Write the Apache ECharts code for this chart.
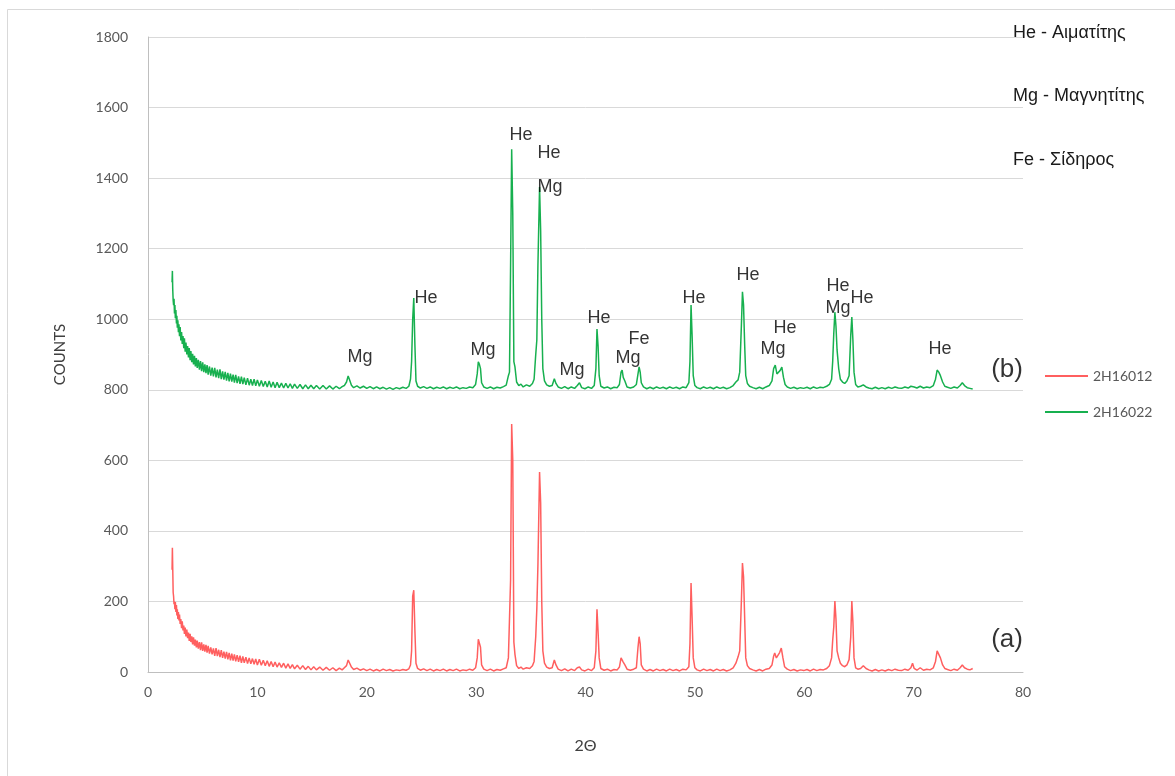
<!DOCTYPE html>
<html>
<head>
<meta charset="utf-8">
<title>XRD 2H16012 / 2H16022</title>
<script src="https://cdn.jsdelivr.net/npm/echarts@6/dist/echarts.min.js"></script>
<style>
  html, body { margin: 0; padding: 0; background: #ffffff; }
  #chart { width: 1175px; height: 776px; }
</style>
</head>
<body>
<div id="chart"></div>
<script>
// Diffraction scans: [2θ, counts]
const scanA = [ // 2H16012
  [2.20,290],[2.23,352],[2.26,296],[2.30,226],[2.34,214],[2.38,192],[2.42,200],[2.46,178],[2.50,198],[2.55,170],
  [2.60,190],[2.64,160],[2.68,178],[2.73,150],[2.78,170],[2.83,146],[2.88,163],[2.94,136],[3.00,150],[3.07,124],
  [3.13,144],[3.20,118],[3.27,132],[3.33,108],[3.40,126],[3.47,101],[3.55,120],[3.62,96],[3.70,112],[3.77,88],
  [3.85,108],[3.92,85],[4.00,101],[4.08,78],[4.16,98],[4.25,75],[4.33,92],[4.42,70],[4.50,89],[4.60,66],
  [4.70,85],[4.80,62],[4.90,84],[5.00,60],[5.10,78],[5.20,58],[5.30,77],[5.40,55],[5.50,74],[5.62,52],
  [5.74,70],[5.86,50],[5.98,67],[6.10,46],[6.22,68],[6.34,45],[6.46,63],[6.58,42],[6.70,62],[6.82,40],
  [6.94,58],[7.06,38],[7.18,57],[7.30,36],[7.42,54],[7.54,33],[7.66,52],[7.78,32],[7.90,50],[8.02,30],
  [8.15,48],[8.28,29],[8.41,46],[8.54,26],[8.67,44],[8.80,26],[8.95,42],[9.10,24],[9.25,40],[9.40,23],
  [9.55,38],[9.70,22],[9.85,37],[10.00,20],[10.18,36],[10.36,19],[10.54,33],[10.72,18],[10.90,32],[11.08,16],
  [11.26,30],[11.44,15],[11.62,28],[11.80,14],[12.00,26],[12.20,13],[12.40,25],[12.60,11],[12.80,23],[13.00,10],
  [13.20,21],[13.40,9],[13.65,19],[13.90,8],[14.15,18],[14.40,7],[14.65,16],[14.90,6],[15.15,15],[15.40,6],
  [15.70,14],[16.00,5],[16.30,13],[16.60,5],[16.90,12],[17.20,4],[17.50,11],[17.75,6],[17.95,12],[18.15,18],
  [18.30,34],[18.45,24],[18.60,14],[18.80,7],[19.10,11],[19.40,5],[19.70,9],[20.00,4],[20.30,8],[20.60,3],
  [20.90,7],[21.20,3],[21.50,8],[21.80,4],[22.10,7],[22.40,3],[22.70,6],[23.00,4],[23.30,7],[23.60,5],
  [23.85,9],[24.00,20],[24.10,60],[24.20,215],[24.30,232],[24.40,120],[24.50,25],[24.65,10],[24.90,5],[25.20,9],
  [25.50,4],[25.80,8],[26.10,3],[26.40,7],[26.70,4],[27.00,8],[27.30,3],[27.60,7],[27.90,4],[28.20,8],
  [28.50,3],[28.80,6],[29.10,4],[29.40,8],[29.70,5],[29.95,12],[30.10,40],[30.20,93],[30.30,88],[30.40,70],
  [30.50,20],[30.70,8],[31.00,4],[31.30,8],[31.60,3],[31.90,7],[32.20,5],[32.50,9],[32.75,12],[32.95,40],
  [33.05,45],[33.15,260],[33.25,703],[33.35,600],[33.45,85],[33.55,50],[33.70,18],[33.90,10],[34.10,14],[34.30,8],
  [34.60,12],[34.90,10],[35.15,18],[35.30,30],[35.45,100],[35.55,180],[35.65,303],[35.80,567],[35.90,479],[36.00,200],
  [36.10,60],[36.25,25],[36.45,14],[36.70,10],[36.95,12],[37.15,34],[37.30,20],[37.50,8],[37.80,4],[38.10,9],
  [38.40,3],[38.70,8],[39.00,4],[39.25,12],[39.45,14],[39.65,6],[39.95,3],[40.25,8],[40.55,4],[40.80,12],
  [40.95,60],[41.05,178],[41.15,113],[41.25,40],[41.40,10],[41.70,5],[42.00,8],[42.30,3],[42.60,7],[42.90,6],
  [43.10,14],[43.25,40],[43.35,45],[43.45,28],[43.60,20],[43.80,8],[44.10,5],[44.40,8],[44.65,12],[44.80,70],
  [44.90,100],[45.00,80],[45.10,20],[45.30,8],[45.60,3],[45.90,7],[46.20,3],[46.50,8],[46.80,4],[47.10,7],
  [47.40,3],[47.70,8],[48.00,4],[48.30,7],[48.60,3],[48.90,8],[49.20,6],[49.45,15],[49.55,80],[49.65,252],
  [49.75,150],[49.85,40],[50.00,12],[50.20,6],[50.50,3],[50.80,8],[51.10,4],[51.40,7],[51.70,3],[52.00,8],
  [52.30,4],[52.60,7],[52.90,3],[53.20,6],[53.50,12],[53.75,25],[53.95,43],[54.10,60],[54.25,200],[54.35,309],
  [54.45,270],[54.55,156],[54.65,40],[54.80,18],[55.00,10],[55.30,6],[55.60,3],[55.90,7],[56.20,3],[56.50,8],
  [56.80,10],[57.05,20],[57.20,45],[57.30,54],[57.45,40],[57.60,35],[57.75,55],[57.90,68],[58.05,40],[58.20,15],
  [58.45,8],[58.75,4],[59.05,7],[59.35,3],[59.65,6],[59.95,4],[60.25,7],[60.55,3],[60.85,8],[61.15,4],
  [61.45,7],[61.75,6],[62.05,10],[62.30,18],[62.50,40],[62.60,90],[62.70,128],[62.80,201],[62.90,150],[63.00,60],
  [63.15,40],[63.30,25],[63.50,18],[63.70,15],[63.90,20],[64.10,35],[64.25,99],[64.35,201],[64.45,140],[64.55,40],
  [64.70,12],[64.90,8],[65.15,10],[65.40,18],[65.65,10],[65.90,6],[66.20,3],[66.50,7],[66.80,3],[67.10,6],
  [67.40,3],[67.70,7],[68.00,4],[68.30,8],[68.60,5],[68.90,4],[69.20,8],[69.50,5],[69.75,12],[69.90,25],
  [70.05,10],[70.30,5],[70.60,12],[70.90,5],[71.20,8],[71.50,6],[71.80,12],[72.00,30],[72.15,60],[72.30,50],
  [72.45,40],[72.65,20],[72.85,10],[73.10,7],[73.40,4],[73.70,8],[74.00,5],[74.25,12],[74.45,20],[74.65,12],
  [74.90,8],[75.15,6],[75.40,10]
];

const scanB = [ // 2H16022
  [2.20,1105],[2.23,1137],[2.26,1086],[2.30,1054],[2.34,1040],[2.38,1058],[2.42,1016],[2.46,1040],[2.50,1003],[2.55,1026],
  [2.60,988],[2.64,1010],[2.68,976],[2.73,997],[2.78,963],[2.83,986],[2.88,952],[2.94,978],[3.00,940],[3.07,964],
  [3.13,930],[3.20,952],[3.27,918],[3.33,946],[3.40,908],[3.47,934],[3.55,900],[3.62,924],[3.70,892],[3.77,918],
  [3.85,884],[3.92,910],[4.00,878],[4.08,902],[4.16,872],[4.25,896],[4.33,866],[4.42,890],[4.50,862],[4.60,885],
  [4.70,857],[4.80,881],[4.90,853],[5.00,878],[5.10,850],[5.20,872],[5.30,847],[5.40,870],[5.50,843],[5.62,866],
  [5.74,840],[5.86,863],[5.98,838],[6.10,862],[6.22,835],[6.34,857],[6.46,833],[6.58,858],[6.70,830],[6.82,852],
  [6.94,829],[7.06,851],[7.18,826],[7.30,848],[7.42,824],[7.54,846],[7.66,823],[7.78,843],[7.90,820],[8.02,842],
  [8.15,819],[8.28,838],[8.41,817],[8.54,837],[8.67,816],[8.80,834],[8.95,814],[9.10,833],[9.25,813],[9.40,830],
  [9.55,812],[9.70,830],[9.85,811],[10.00,828],[10.18,810],[10.36,826],[10.54,809],[10.72,824],[10.90,808],[11.08,825],
  [11.26,807],[11.44,822],[11.62,806],[11.80,821],[12.00,806],[12.20,819],[12.40,805],[12.60,818],[12.80,805],[13.00,817],
  [13.20,804],[13.40,816],[13.65,804],[13.90,815],[14.15,803],[14.40,814],[14.65,803],[14.90,813],[15.15,803],[15.40,812],
  [15.70,802],[16.00,812],[16.30,802],[16.60,811],[16.90,802],[17.20,810],[17.50,803],[17.75,809],[17.95,812],[18.15,822],
  [18.30,839],[18.45,826],[18.60,813],[18.80,806],[19.10,811],[19.40,805],[19.70,810],[20.00,804],[20.30,809],[20.60,803],
  [20.90,808],[21.20,803],[21.50,807],[21.80,802],[22.10,806],[22.40,801],[22.70,806],[23.00,803],[23.30,807],[23.60,804],
  [23.85,810],[24.00,830],[24.10,880],[24.20,1000],[24.30,1060],[24.40,930],[24.50,825],[24.65,810],[24.90,805],[25.20,809],
  [25.50,804],[25.80,808],[26.10,803],[26.40,807],[26.70,804],[27.00,808],[27.30,803],[27.60,807],[27.90,804],[28.20,808],
  [28.50,803],[28.80,806],[29.10,804],[29.40,808],[29.70,806],[29.95,815],[30.10,845],[30.20,879],[30.30,872],[30.40,860],
  [30.50,820],[30.70,808],[31.00,804],[31.30,808],[31.60,803],[31.90,807],[32.20,805],[32.50,809],[32.75,813],[32.95,840],
  [33.05,850],[33.15,1150],[33.25,1482],[33.35,1300],[33.45,880],[33.55,865],[33.70,822],[33.90,812],[34.10,816],[34.30,808],
  [34.60,814],[34.90,810],[35.15,818],[35.30,830],[35.45,900],[35.55,941],[35.65,1154],[35.80,1375],[35.90,1250],[36.00,1000],
  [36.10,860],[36.25,825],[36.45,814],[36.70,810],[36.95,812],[37.15,831],[37.30,818],[37.50,808],[37.80,804],[38.10,809],
  [38.40,803],[38.70,808],[39.00,804],[39.25,812],[39.45,820],[39.65,806],[39.95,803],[40.25,808],[40.55,804],[40.80,812],
  [40.95,860],[41.05,972],[41.15,924],[41.25,840],[41.40,810],[41.70,805],[42.00,808],[42.30,803],[42.60,807],[42.90,806],
  [43.10,815],[43.25,850],[43.35,856],[43.45,835],[43.60,825],[43.80,808],[44.10,805],[44.40,808],[44.65,815],[44.80,845],
  [44.90,865],[45.00,850],[45.10,820],[45.30,808],[45.60,803],[45.90,807],[46.20,803],[46.50,808],[46.80,804],[47.10,807],
  [47.40,803],[47.70,808],[48.00,804],[48.30,807],[48.60,803],[48.90,808],[49.20,806],[49.45,820],[49.55,880],[49.65,1040],
  [49.75,950],[49.85,840],[50.00,812],[50.20,806],[50.50,803],[50.80,808],[51.10,804],[51.40,807],[51.70,803],[52.00,808],
  [52.30,804],[52.60,807],[52.90,803],[53.20,806],[53.50,812],[53.75,822],[53.95,828],[54.10,850],[54.25,980],[54.35,1078],
  [54.45,1040],[54.55,930],[54.65,840],[54.80,818],[55.00,810],[55.30,806],[55.60,803],[55.90,807],[56.20,803],[56.50,808],
  [56.80,812],[57.05,825],[57.20,860],[57.35,870],[57.50,845],[57.65,840],[57.80,855],[57.95,864],[58.10,835],[58.25,815],
  [58.45,808],[58.75,804],[59.05,807],[59.35,803],[59.65,806],[59.95,804],[60.25,807],[60.55,803],[60.85,808],[61.15,804],
  [61.45,807],[61.75,806],[62.05,810],[62.30,815],[62.50,830],[62.60,880],[62.70,960],[62.80,1020],[62.90,980],[63.00,913],
  [63.15,860],[63.30,830],[63.50,822],[63.70,818],[63.90,825],[64.10,840],[64.25,955],[64.35,1006],[64.45,940],[64.55,850],
  [64.70,815],[64.90,808],[65.15,810],[65.40,814],[65.65,808],[65.90,805],[66.20,803],[66.50,807],[66.80,803],[67.10,806],
  [67.40,803],[67.70,807],[68.00,804],[68.30,808],[68.60,805],[68.90,804],[69.20,808],[69.50,805],[69.75,810],[69.90,814],
  [70.05,808],[70.30,805],[70.60,810],[70.90,805],[71.20,808],[71.50,806],[71.80,812],[72.00,830],[72.15,856],[72.30,850],
  [72.45,840],[72.65,822],[72.85,810],[73.10,807],[73.40,804],[73.70,808],[74.00,805],[74.25,812],[74.45,820],[74.65,812],
  [74.90,806],[75.15,804],[75.40,802]
];

const seriesNames = ['2H16012', '2H16022'];

// Phase labels placed above the reflections: [2θ, counts, text]
const phaseLabels = [
  [19.38, 893, 'Mg'], [25.42, 1060, 'He'], [30.63, 913, 'Mg'],
  [34.10, 1522, 'He'], [36.66, 1471, 'He'], [36.75, 1375, 'Mg'],
  [38.77, 856, 'Mg'], [41.23, 1003, 'He'], [44.89, 944, 'Fe'],
  [43.89, 890, 'Mg'], [49.92, 1060, 'He'], [54.86, 1125, 'He'],
  [58.24, 975, 'He'], [57.14, 916, 'Mg'], [63.09, 1094, 'He'],
  [63.09, 1032, 'Mg'], [65.28, 1060, 'He'], [72.41, 916, 'He']
];

// Pattern tags (a) and (b)
const patternTags = [[78.54, 856, '(b)'], [78.54, 91, '(a)']];

// Phase key
const phaseKey = ['He - Αιματίτης', 'Mg - Μαγνητίτης', 'Fe - Σίδηρος'];

const xTicks = { min: 0, max: 80, step: 10 };
const yTicks = { min: 0, max: 1800, step: 200 };

const chart = echarts.init(document.getElementById('chart'), null, { renderer: 'canvas' });

const axisFont = 'Lato, "Liberation Sans", sans-serif';
const labelFont = '"Liberation Sans", Arial, sans-serif';

chart.setOption({
  animation: false,
  backgroundColor: '#ffffff',
  grid: { left: 148, right: 152, top: 37, bottom: 104, containLabel: false },
  legend: {
    data: seriesNames,
    orient: 'vertical',
    left: 1040,
    top: 364,
    icon: 'rect',
    itemWidth: 43,
    itemHeight: 2,
    itemGap: 22,
    textStyle: { color: '#595959', fontSize: 14, fontFamily: axisFont }
  },
  xAxis: {
    type: 'value',
    min: xTicks.min, max: xTicks.max, interval: xTicks.step,
    name: '2Θ',
    nameLocation: 'middle',
    nameGap: 66,
    nameTextStyle: { color: '#404040', fontSize: 16, fontFamily: axisFont },
    axisLine: { show: true, lineStyle: { color: '#bfbfbf', width: 1 } },
    axisTick: { show: false },
    axisLabel: { color: '#595959', fontSize: 14, fontFamily: axisFont, margin: 13 },
    splitLine: { show: false }
  },
  yAxis: {
    type: 'value',
    min: yTicks.min, max: yTicks.max, interval: yTicks.step,
    name: 'COUNTS',
    nameLocation: 'middle',
    nameGap: 80,
    nameRotate: 90,
    nameTextStyle: { color: '#404040', fontSize: 15, fontFamily: axisFont },
    axisLine: { show: true, lineStyle: { color: '#bfbfbf', width: 1 } },
    axisTick: { show: false },
    axisLabel: {
      color: '#595959', fontSize: 14, fontFamily: axisFont, margin: 20,
      formatter: v => String(v)
    },
    splitLine: { show: true, lineStyle: { color: '#d9d9d9', width: 1 } }
  },
  graphic: [
    {
      type: 'rect',
      shape: { x: 7.5, y: 9.5, width: 1200, height: 800 },
      style: { fill: 'none', stroke: '#d9d9d9', lineWidth: 1 },
      silent: true, z: -10
    },
    ...phaseKey.map((t, i) => ({
      type: 'text',
      left: 1013,
      top: 24 + i * 63.5,
      style: { text: t, fill: '#1a1a1a', font: '18px ' + labelFont },
      silent: true
    }))
  ],
  series: [
    {
      name: seriesNames[0],
      type: 'line',
      data: scanA,
      symbol: 'none',
      lineStyle: { color: '#ff5f5f', width: 1.5 },
      itemStyle: { color: '#ff5f5f' },
      z: 2
    },
    {
      name: seriesNames[1],
      type: 'line',
      data: scanB,
      symbol: 'none',
      lineStyle: { color: '#17b04f', width: 1.5 },
      itemStyle: { color: '#17b04f' },
      z: 3
    },
    {
      name: 'phases',
      type: 'scatter',
      data: phaseLabels,
      symbolSize: 0,
      silent: true,
      z: 5,
      label: {
        show: true,
        position: 'inside',
        formatter: p => p.value[2],
        color: '#000000',
        fontSize: 18,
        fontFamily: labelFont
      }
    },
    {
      name: 'tags',
      type: 'scatter',
      data: patternTags,
      symbolSize: 0,
      silent: true,
      z: 5,
      label: {
        show: true,
        position: 'inside',
        formatter: p => p.value[2],
        color: '#000000',
        fontSize: 26,
        fontFamily: labelFont
      }
    }
  ]
});
</script>
</body>
</html>
